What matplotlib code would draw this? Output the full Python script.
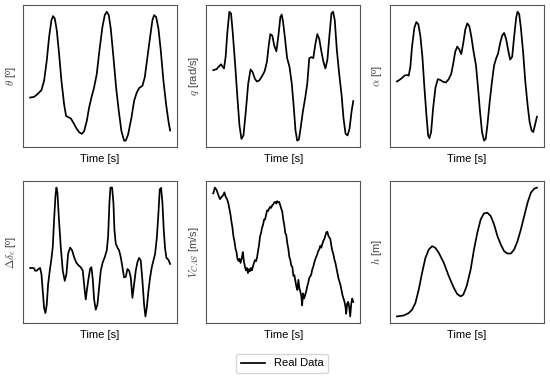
import numpy as np
import matplotlib
matplotlib.use("Agg")
import matplotlib.pyplot as plt

plt.rcParams['font.family'] = ['Liberation Sans', 'DejaVu Sans']
plt.rcParams['mathtext.fontset'] = 'cm'

# --------------------------
# Flight data (time [s], value)
# --------------------------

theta = [(0, 15.0), (1.2, 15.2), (2.2, 16.0), (3.4, 17.2), (4.2, 20.0), (5.0, 26.0),
         (5.7, 33.0), (6.4, 38.0), (6.9, 39.2), (7.4, 38.5), (8.0, 35.0), (8.7, 28.0),
         (9.4, 20.0), (10.2, 13.0), (10.8, 9.5), (11.4, 9.2), (12.2, 8.8), (13.0, 7.5),
         (13.8, 6.0), (14.7, 4.7), (15.5, 4.2), (16.2, 5.0), (17.0, 8.0), (17.7, 12.0),
         (18.4, 15.0), (19.2, 18.0), (20.0, 22.0), (20.8, 29.0), (21.7, 36.0), (22.4, 39.5),
         (23.0, 40.5), (23.6, 39.5), (24.2, 35.5), (25.0, 27.0), (25.8, 18.0), (26.6, 11.0),
         (27.4, 5.0), (28.2, 2.2), (28.7, 2.2), (29.4, 4.0), (30.4, 9.0), (31.2, 14.0),
         (32.0, 16.5), (32.7, 17.8), (33.7, 18.5), (34.4, 21.0), (35.2, 27.0), (36.0, 33.0),
         (36.7, 38.0), (37.2, 39.5), (37.8, 39.0), (38.5, 35.5), (39.2, 29.0), (40.0, 20.0),
         (40.8, 13.0), (41.5, 8.0), (42.0, 5.2)]

q = [(0.0, 0.010), (1.0, 0.013), (1.8, 0.022), (2.3, 0.027), (2.8, 0.020), (3.2, 0.015),
     (3.7, 0.050), (4.2, 0.120), (4.8, 0.180), (5.3, 0.175), (5.8, 0.120), (6.5, 0.030),
     (7.2, -0.070), (7.8, -0.150), (8.4, -0.190), (9.0, -0.180), (9.7, -0.110), (10.4, -0.030),
     (11.1, 0.012), (11.7, 0.005), (12.4, -0.015), (13.0, -0.023), (13.7, -0.020), (14.5, -0.008),
     (15.3, 0.007), (16.0, 0.035), (16.5, 0.080), (17.0, 0.115), (17.6, 0.110), (18.2, 0.080),
     (18.8, 0.065), (19.4, 0.110), (20.0, 0.165), (20.4, 0.172), (20.8, 0.150), (21.4, 0.100),
     (22.0, 0.045), (22.7, 0.020), (23.4, -0.030), (24.0, -0.100), (24.5, -0.165), (25.0, -0.195),
     (25.5, -0.192), (26.0, -0.160), (26.7, -0.110), (27.4, -0.070), (28.0, -0.030), (28.6, 0.045),
     (29.2, 0.048), (29.8, 0.045), (30.4, 0.085), (31.0, 0.115), (31.6, 0.100), (32.2, 0.065),
     (32.8, 0.035), (33.4, 0.015), (34.0, 0.040), (34.6, 0.110), (35.2, 0.175), (35.7, 0.180),
     (36.2, 0.155), (36.8, 0.070), (37.5, 0.000), (38.2, -0.060), (38.8, -0.130), (39.4, -0.175),
     (40.0, -0.180), (40.6, -0.160), (41.2, -0.110), (41.7, -0.080)]

alpha = [(0.0, 9.9), (0.8, 10.15), (1.5, 10.4), (2.2, 10.75), (3.0, 10.85), (3.5, 10.75),
         (4.0, 12.0), (4.5, 15.0), (5.2, 17.75), (5.8, 18.6), (6.4, 18.25), (7.0, 16.5),
         (7.6, 13.5), (8.2, 9.0), (8.8, 5.0), (9.3, 2.0), (9.7, 1.6), (10.2, 2.5),
         (10.8, 6.0), (11.5, 9.0), (12.2, 10.25), (13.0, 10.1), (13.8, 9.85), (14.6, 9.75),
         (15.4, 10.2), (16.2, 11.0), (16.8, 12.5), (17.4, 14.25), (18.0, 15.0), (18.6, 14.6),
         (19.2, 13.9), (19.8, 15.5), (20.4, 17.5), (21.0, 18.4), (21.6, 18.0), (22.2, 16.5),
         (22.8, 14.5), (23.6, 12.25), (24.2, 9.0), (24.8, 5.5), (25.4, 2.5), (26.0, 1.25),
         (26.5, 1.5), (27.0, 3.5), (27.7, 7.0), (28.4, 10.0), (29.0, 12.25), (29.6, 13.25),
         (30.2, 14.0), (30.8, 15.5), (31.4, 16.6), (32.0, 17.0), (32.6, 16.1), (33.2, 14.5),
         (33.8, 13.1), (34.4, 13.5), (35.0, 16.5), (35.6, 19.25), (36.0, 20.1), (36.5, 19.75),
         (37.0, 17.75), (37.7, 14.0), (38.3, 10.0), (39.0, 6.5), (39.6, 4.0), (40.2, 2.75),
         (40.7, 2.5), (41.2, 3.5), (41.8, 4.75)]

delta_e = [(0.0, 8.4), (0.7, 8.4), (1.2, 8.35), (1.5, 8.0), (2.0, 8.0), (2.5, 8.25),
           (3.0, 8.4), (3.4, 7.5), (3.8, 5.0), (4.2, 2.5), (4.6, 1.75), (5.0, 3.0),
           (5.4, 6.0), (5.9, 8.0), (6.4, 9.75), (6.8, 11.5), (7.2, 15.5), (7.6, 19.0),
           (7.9, 20.25), (8.2, 19.5), (8.6, 16.0), (9.2, 11.5), (9.8, 8.0), (10.4, 6.5),
           (10.9, 7.5), (11.4, 10.5), (12.0, 11.4), (12.6, 11.0), (13.2, 10.0), (13.8, 9.25),
           (14.4, 8.85), (15.2, 8.5), (15.8, 8.0), (16.4, 5.0), (16.7, 3.75), (17.0, 5.0),
           (17.5, 6.75), (18.0, 8.25), (18.4, 8.5), (18.8, 6.75), (19.2, 3.75), (19.7, 2.25),
           (20.2, 3.0), (20.7, 5.5), (21.2, 8.0), (21.8, 9.25), (22.4, 10.0), (23.0, 11.0),
           (23.4, 13.0), (23.8, 18.0), (24.1, 20.25), (24.6, 20.25), (25.0, 18.0), (25.3, 14.0),
           (25.7, 12.0), (26.2, 11.4), (26.7, 11.0), (27.2, 10.0), (27.7, 8.5), (28.2, 7.0),
           (28.7, 7.1), (29.2, 8.25), (29.7, 8.0), (30.2, 7.0), (30.7, 4.0), (31.2, 6.0),
           (31.7, 8.0), (32.2, 9.25), (32.7, 9.9), (33.2, 9.5), (33.7, 6.5), (34.2, 3.0),
           (34.6, 1.25), (35.0, 2.5), (35.5, 5.0), (36.0, 7.0), (36.5, 8.5), (37.0, 9.5),
           (37.5, 10.5), (38.0, 12.75), (38.5, 16.5), (38.9, 20.0), (39.3, 20.2), (39.7, 18.0),
           (40.1, 14.0), (40.5, 11.25), (40.9, 9.9), (41.5, 9.6), (42.0, 9.0)]

v_cas = [(0.0, 119.25), (0.5, 120.1), (1.0, 119.75), (1.5, 119.0), (2.0, 118.4), (2.5, 118.75),
         (3.0, 119.0), (3.3, 119.4), (3.7, 118.75), (4.1, 118.4), (4.5, 117.75), (4.8, 117.0),
         (5.1, 116.2), (5.4, 115.1), (5.7, 114.2), (6.0, 112.9), (6.3, 112.2), (6.6, 111.1),
         (6.9, 110.6), (7.2, 109.6), (7.5, 109.3), (7.8, 109.6), (8.1, 109.0), (8.5, 109.75),
         (8.8, 110.6), (9.1, 109.25), (9.4, 108.5), (9.7, 107.9), (10.0, 108.25), (10.3, 107.5),
         (10.6, 108.1), (10.9, 107.75), (11.2, 108.25), (11.5, 107.9), (11.8, 108.5), (12.1, 109.0),
         (12.4, 109.4), (12.7, 109.25), (13.0, 109.75), (13.3, 110.75), (13.6, 111.6), (13.9, 112.9),
         (14.2, 113.4), (14.5, 114.2), (14.8, 114.6), (15.1, 115.4), (15.4, 115.4), (15.7, 116.1),
         (16.0, 116.75), (16.3, 116.65), (16.6, 117.0), (16.9, 117.25), (17.2, 117.1), (17.5, 117.5),
         (17.8, 117.6), (18.1, 117.9), (18.4, 118.0), (18.7, 117.75), (19.0, 118.1), (19.3, 117.9),
         (19.6, 118.0), (19.9, 117.5), (20.2, 117.0), (20.5, 116.6), (20.8, 115.4), (21.1, 114.6),
         (21.4, 113.4), (21.7, 113.1), (22.0, 111.9), (22.3, 111.1), (22.6, 109.9), (22.9, 109.4),
         (23.2, 108.6), (23.5, 108.4), (23.8, 107.1), (24.1, 107.2), (24.4, 106.3), (24.7, 105.5),
         (25.0, 105.0), (25.3, 106.5), (25.6, 105.25), (25.9, 104.75), (26.2, 104.0), (26.4, 102.75),
         (26.7, 104.5), (27.0, 103.75), (27.3, 104.25), (27.6, 104.75), (27.9, 105.5), (28.2, 106.0),
         (28.5, 106.75), (28.8, 107.0), (29.1, 107.25), (29.4, 108.0), (29.7, 108.4), (30.0, 109.0),
         (30.3, 109.5), (30.6, 109.9), (30.9, 110.25), (31.2, 110.75), (31.5, 111.0), (31.8, 111.5),
         (32.1, 111.25), (32.4, 111.75), (32.7, 112.25), (33.0, 112.5), (33.3, 113.0), (33.6, 113.5),
         (33.9, 113.6), (34.2, 113.0), (34.5, 112.75), (34.8, 112.5), (35.1, 111.5), (35.4, 110.75),
         (35.7, 110.25), (36.0, 109.5), (36.3, 109.0), (36.6, 108.25), (36.9, 107.5), (37.2, 106.75),
         (37.5, 106.25), (37.8, 105.75), (38.1, 105.0), (38.4, 104.25), (38.7, 103.75), (39.0, 103.25),
         (39.3, 102.5), (39.5, 101.5), (39.8, 103.0), (40.1, 103.25), (40.4, 102.5), (40.7, 101.1),
         (41.0, 103.0), (41.3, 103.75), (41.6, 103.25)]

altitude = [(0.0, 1010), (2.0, 1011.5), (3.5, 1015), (4.5, 1020), (5.5, 1030), (6.5, 1050),
            (7.5, 1075), (8.5, 1097.5), (9.5, 1110), (10.5, 1115), (11.5, 1112.5), (12.5, 1105),
            (14.0, 1090), (15.5, 1070), (17.0, 1052.5), (18.0, 1043.5), (19.0, 1040), (19.8, 1042.5),
            (20.8, 1055), (22.0, 1080), (23.0, 1110), (24.0, 1135), (25.0, 1155), (26.0, 1164),
            (27.0, 1165), (28.0, 1160), (29.0, 1147.5), (30.0, 1130), (31.0, 1117.5), (32.0, 1107.5),
            (33.0, 1104), (34.0, 1104), (35.0, 1110), (36.0, 1122.5), (37.0, 1140), (38.0, 1160),
            (39.0, 1180), (40.0, 1195), (41.0, 1201), (41.8, 1202.5)]

series = [theta, q, alpha, delta_e, v_cas, altitude]
ylabels = [r'$\theta$ [º]', r'$q$ [rad/s]', r'$\alpha$ [º]',
           r'$\Delta\delta_e$ [º]', r'$V_{CAS}$ [m/s]', r'$h$ [m]']

# --------------------------
# Plot
# --------------------------

fig = plt.figure(figsize=(5.5, 3.79), dpi=100)

lefts = [0.042, 0.375, 0.709]
bottoms = [0.612, 0.148]
w, h = 0.28, 0.374

for i, (data, label) in enumerate(zip(series, ylabels)):
    row, col = divmod(i, 3)
    ax = fig.add_axes([lefts[col], bottoms[row], w, h])
    t, v = np.array(data).T
    line, = ax.plot(t, v, color='black', linewidth=1.25, label='Real Data')
    ax.set_xticks([])
    ax.set_yticks([])
    for sp in ax.spines.values():
        sp.set_color('#555555')
        sp.set_linewidth(0.8)
    ax.set_xlabel('Time [s]', fontsize=8, labelpad=5)
    ax.set_ylabel(label, fontsize=8, color='#444444', labelpad=4)

fig.legend(handles=[line], loc='center', bbox_to_anchor=(0.513, 0.041),
           fontsize=8, frameon=True, edgecolor='#cccccc', handlelength=2.2)

fig.savefig('out.png', dpi=100)
